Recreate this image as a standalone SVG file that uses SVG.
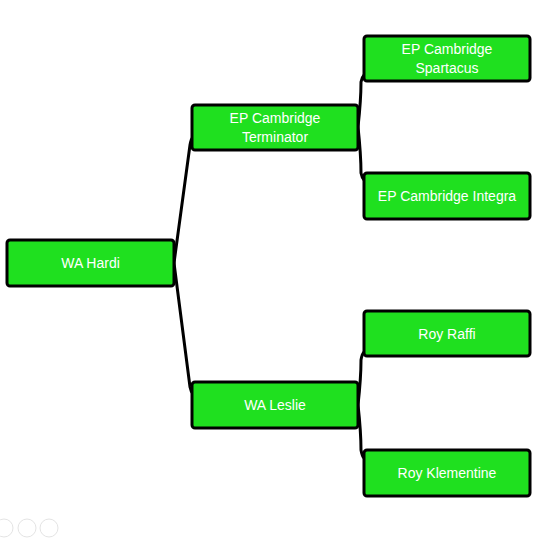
<svg xmlns="http://www.w3.org/2000/svg" width="539" height="539" viewBox="0 0 539 539">
<style>
.box{fill:#1fe01f;stroke:#000;stroke-width:3}
.lbl{fill:#fff;font-family:"Liberation Sans","Open Sans",sans-serif;font-size:14px;text-anchor:middle}
.con{fill:none;stroke:#000;stroke-width:3}
.ico{fill:none;stroke:#e4e4e4;stroke-width:1}
</style>
<rect width="539" height="539" fill="#fff"/>
<g id="connectors">
<path class="con" d="M174 263 L190 145 Q191 139 193 137"/>
<path class="con" d="M174 263 L190 387 Q191 392 193 394"/>
<path class="con" d="M358 127 Q361 100 361 82 Q362 77 364 75"/>
<path class="con" d="M358 127 Q361 155 361 173 Q362 178 364 180"/>
<path class="con" d="M358 405 Q361 378 361 360 Q362 354 364 352"/>
<path class="con" d="M358 405 Q361 432 361 450 Q362 456 364 458"/>
</g>
<g id="hardi"><rect class="box" x="7" y="240" width="167" height="46" rx="3"/><text class="lbl" x="90.5" y="268">WA Hardi</text></g>
<g id="terminator"><rect class="box" x="192" y="105" width="166" height="45" rx="3"/><text class="lbl" x="275" y="123">EP Cambridge</text><text class="lbl" x="275" y="142">Terminator</text></g>
<g id="leslie"><rect class="box" x="192" y="382" width="166" height="46" rx="3"/><text class="lbl" x="275" y="410">WA Leslie</text></g>
<g id="spartacus"><rect class="box" x="364" y="36" width="166" height="45" rx="3"/><text class="lbl" x="447" y="54">EP Cambridge</text><text class="lbl" x="447" y="73">Spartacus</text></g>
<g id="integra"><rect class="box" x="364" y="173" width="166" height="46" rx="3"/><text class="lbl" x="447" y="201">EP Cambridge Integra</text></g>
<g id="raffi"><rect class="box" x="364" y="311" width="166" height="45" rx="3"/><text class="lbl" x="447" y="339">Roy Raffi</text></g>
<g id="klementine"><rect class="box" x="364" y="450" width="166" height="46" rx="3"/><text class="lbl" x="447" y="478">Roy Klementine</text></g>
<g id="toolbar">
<circle class="ico" cx="4" cy="528" r="9"/>
<circle class="ico" cx="27" cy="528" r="9"/>
<circle class="ico" cx="49" cy="528" r="9"/>
</g>
</svg>
